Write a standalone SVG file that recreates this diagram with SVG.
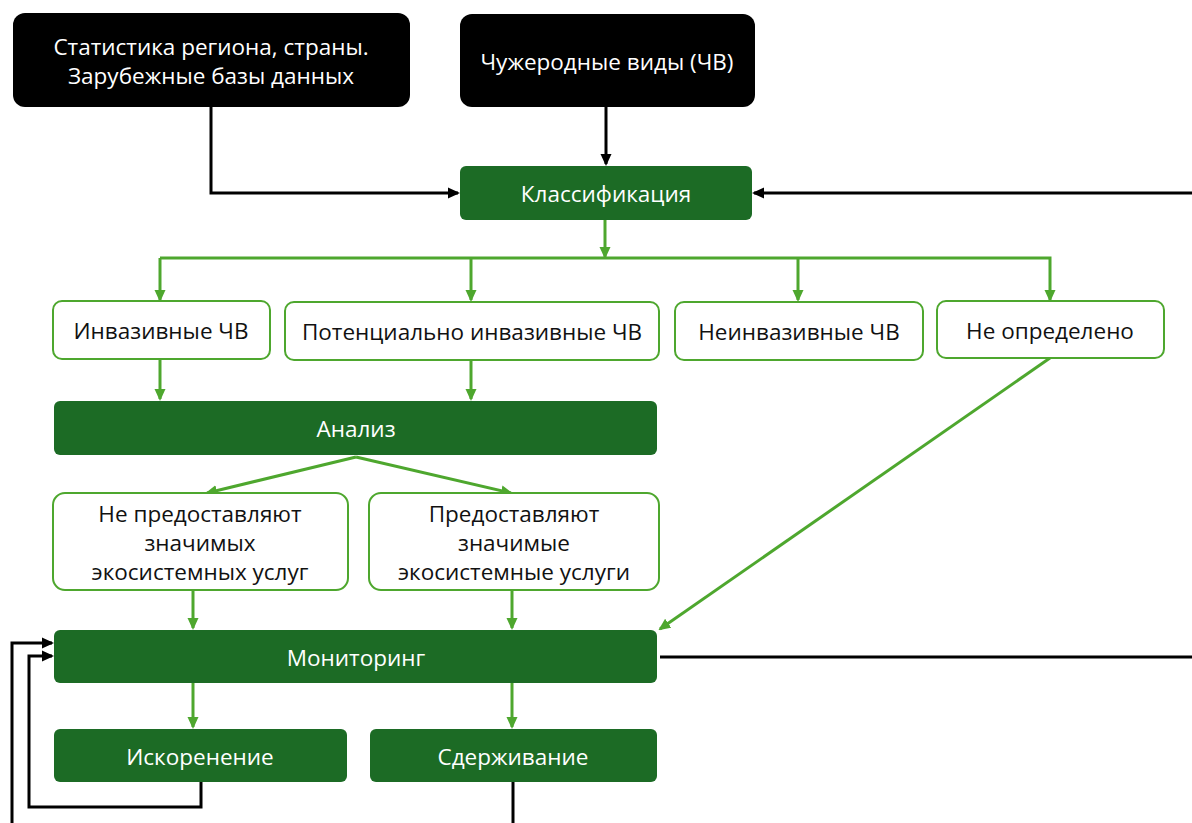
<svg xmlns="http://www.w3.org/2000/svg" width="1192" height="823" viewBox="0 0 1192 823">
<style>
.blk{fill:#000;}
.dg{fill:#1c6b25;}
.wb{fill:#fff;stroke:#4ea72e;stroke-width:2;}
.t{font-family:"Open Sans","Liberation Sans",sans-serif;font-size:22.5px;text-anchor:middle;dominant-baseline:central;}
.tw{fill:#fff;}
.tb{fill:#111;}
.gl{fill:none;stroke:#4ea72e;stroke-width:3;}
.bl{fill:none;stroke:#000;stroke-width:3;}
</style>
<defs>
<marker id="ag" markerWidth="12" markerHeight="12" refX="10" refY="6" orient="auto" markerUnits="userSpaceOnUse">
<path d="M0,0.5 L12,6 L0,11.5 z" fill="#4ea72e"/>
</marker>
<marker id="ab" markerWidth="12" markerHeight="12" refX="10" refY="6" orient="auto" markerUnits="userSpaceOnUse">
<path d="M0,0.5 L12,6 L0,11.5 z" fill="#000"/>
</marker>
</defs>
<rect width="1192" height="823" fill="#fff"/>
<g id="connectors">
<path class="bl" d="M211,107 V193 H458" marker-end="url(#ab)"/>
<path class="bl" d="M606,107 V164" marker-end="url(#ab)"/>
<path class="bl" d="M1192,193 H754" marker-end="url(#ab)"/>
<path class="gl" d="M605,220 V257" marker-end="url(#ag)"/>
<path class="gl" d="M160,258 H1050 V300" marker-end="url(#ag)"/>
<path class="gl" d="M160,258 V300" marker-end="url(#ag)"/>
<path class="gl" d="M471,258 V300" marker-end="url(#ag)"/>
<path class="gl" d="M798,258 V300" marker-end="url(#ag)"/>
<path class="gl" d="M160,359 V399" marker-end="url(#ag)"/>
<path class="gl" d="M471,360 V399" marker-end="url(#ag)"/>
<path class="gl" d="M356,457 L207,493" marker-end="url(#ag)"/>
<path class="gl" d="M356,457 L511,493" marker-end="url(#ag)"/>
<path class="gl" d="M193,590 V628" marker-end="url(#ag)"/>
<path class="gl" d="M512,590 V628" marker-end="url(#ag)"/>
<path class="gl" d="M1050,358 L660,629" marker-end="url(#ag)"/>
<path class="bl" d="M660,657 H1192"/>
<path class="gl" d="M193,683 V727" marker-end="url(#ag)"/>
<path class="gl" d="M512,683 V727" marker-end="url(#ag)"/>
<path class="bl" d="M201,782 V807 H29 V656 H52" marker-end="url(#ab)"/>
<path class="bl" d="M12,823 V643 H52" marker-end="url(#ab)"/>
<path class="bl" d="M513,782 V823"/>
</g>
<g id="n-stat">
<rect class="blk" x="13" y="13" width="397" height="94" rx="12"/>
<text class="t tw" x="211" y="46">Статистика региона, страны.</text>
<text class="t tw" x="211" y="75">Зарубежные базы данных</text>
</g>
<g id="n-alien">
<rect class="blk" x="460" y="14" width="295" height="93" rx="12"/>
<text class="t tw" x="607" y="61">Чужеродные виды (ЧВ)</text>
</g>
<g id="n-class">
<rect class="dg" x="460" y="166" width="292" height="54" rx="6"/>
<text class="t tw" x="606" y="193">Классификация</text>
</g>
<g id="n-inv">
<rect class="wb" x="53" y="301" width="217" height="58" rx="9"/>
<text class="t tb" x="161" y="330">Инвазивные ЧВ</text>
</g>
<g id="n-pot">
<rect class="wb" x="285" y="302" width="374" height="58" rx="9"/>
<text class="t tb" x="472" y="331">Потенциально инвазивные ЧВ</text>
</g>
<g id="n-noninv">
<rect class="wb" x="675" y="302" width="248" height="58" rx="9"/>
<text class="t tb" x="799" y="331">Неинвазивные ЧВ</text>
</g>
<g id="n-undef">
<rect class="wb" x="937" y="301" width="227" height="57" rx="9"/>
<text class="t tb" x="1050" y="330">Не определено</text>
</g>
<g id="n-analysis">
<rect class="dg" x="54" y="401" width="603" height="54" rx="6"/>
<text class="t tw" x="356" y="428">Анализ</text>
</g>
<g id="n-noserv">
<rect class="wb" x="53" y="493" width="295" height="97" rx="12"/>
<text class="t tb" x="200" y="513">Не предоставляют</text>
<text class="t tb" x="200" y="542">значимых</text>
<text class="t tb" x="200" y="571">экосистемных услуг</text>
</g>
<g id="n-serv">
<rect class="wb" x="369" y="493" width="290" height="97" rx="12"/>
<text class="t tb" x="514" y="513">Предоставляют</text>
<text class="t tb" x="514" y="542">значимые</text>
<text class="t tb" x="514" y="571">экосистемные услуги</text>
</g>
<g id="n-monitor">
<rect class="dg" x="54" y="630" width="603" height="53" rx="6"/>
<text class="t tw" x="356" y="657">Мониторинг</text>
</g>
<g id="n-erad">
<rect class="dg" x="54" y="729" width="293" height="53" rx="6"/>
<text class="t tw" x="200" y="756">Искоренение</text>
</g>
<g id="n-contain">
<rect class="dg" x="370" y="729" width="287" height="53" rx="6"/>
<text class="t tw" x="513" y="756">Сдерживание</text>
</g>
</svg>
